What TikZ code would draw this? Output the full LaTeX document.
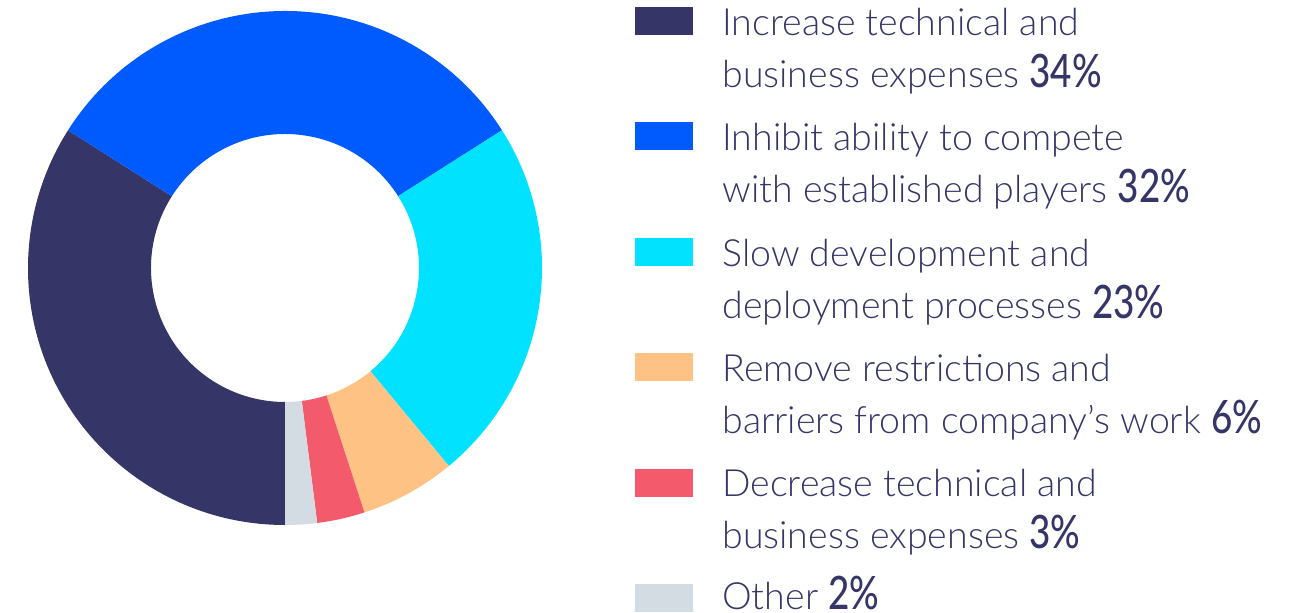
\documentclass[tikz,border=0pt]{standalone}
\usepackage{fontspec}
\setmainfont{Lato}[UprightFont=* Light]
\newfontfamily\pctfont{Lato}[FakeStretch=0.8, UprightFont=* Medium]
\usetikzlibrary{calc,positioning}
\definecolor{navyslice}{HTML}{363567}
\definecolor{blueslice}{HTML}{005BFF}
\definecolor{cyanslice}{HTML}{00E2FF}
\definecolor{orangeslice}{HTML}{FFC285}
\definecolor{redslice}{HTML}{F35B6C}
\definecolor{grayslice}{HTML}{D3DBE3}
\newcommand{\pct}[1]{{\pctfont\fontsize{46}{52}\selectfont #1}}

\begin{document}
\begin{tikzpicture}[x=1pt, y=1pt]
        \tikzstyle{swatch}=[rectangle, inner sep=0pt, minimum width=58pt, minimum height=28pt]
        \tikzstyle{legtext}=[inner sep=0pt, align=left, text=navyslice, font=\fontsize{37.5}{52}\selectfont, anchor=base west]

        \useasboundingbox (0,0) rectangle (1294,-613);

        % Donut centre and radii
        \coordinate (ctr) at (285,-268);
        \def\outr{257}
        \def\innr{134}

        % Slices, clockwise from the bottom
        \foreach \a/\b/\c in {270/147.6/navyslice, 147.6/32.4/blueslice, 32.4/-50.4/cyanslice,
                -50.4/-72/orangeslice, -72/-82.8/redslice, -82.8/-90/grayslice}{
            \fill[\c] ($(ctr)+(\a:\outr)$) arc[start angle=\a, end angle=\b, radius=\outr]
                -- ($(ctr)+(\b:\innr)$) arc[start angle=\b, end angle=\a, radius=\innr] -- cycle;
        }

        % Legend swatches
        \node[swatch, fill=navyslice] (sq1) at (664,-21) {};
        \node[swatch, fill=blueslice, below=87pt of sq1] (sq2) {};
        \node[swatch, fill=cyanslice, below=87pt of sq2] (sq3) {};
        \node[swatch, fill=orangeslice, below=87pt of sq3] (sq4) {};
        \node[swatch, fill=redslice, below=87pt of sq4] (sq5) {};
        \node[swatch, fill=grayslice, below=87pt of sq5] (sq6) {};

        % Legend texts (base = last line, one line below the swatch bottom)
        \node[legtext, right=29pt of sq1.south east, anchor=base west, yshift=-52pt] (lbl1) {Increase technical and\\business expenses \pct{34\%}};
        \node[legtext, right=29pt of sq2.south east, anchor=base west, yshift=-52pt] (lbl2) {Inhibit ability to compete\\with established players \pct{32\%}};
        \node[legtext, right=29pt of sq3.south east, anchor=base west, yshift=-52pt] (lbl3) {Slow development and\\deployment processes \pct{23\%}};
        \node[legtext, right=29pt of sq4.south east, anchor=base west, yshift=-52pt] (lbl4) {Remove restrictions and\\barriers from company’s work \pct{6\%}};
        \node[legtext, right=29pt of sq5.south east, anchor=base west, yshift=-52pt] (lbl5) {Decrease technical and\\business expenses \pct{3\%}};
        \node[legtext, right=29pt of sq6.south east, anchor=base west, yshift=3pt] (lbl6) {Other \pct{2\%}};
\end{tikzpicture}
\end{document}
